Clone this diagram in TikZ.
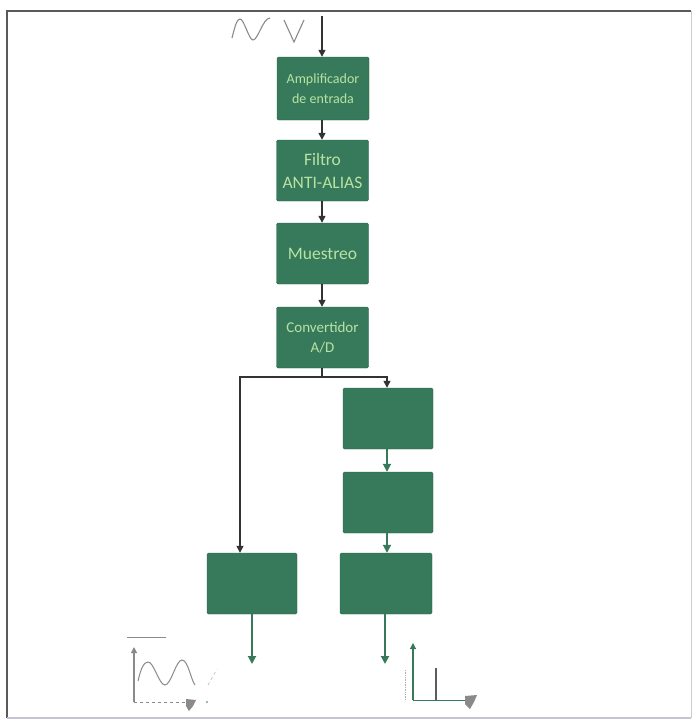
\documentclass[tikz,border=0pt]{standalone}
\usepackage{fontspec}
\setmainfont{Carlito}
\usetikzlibrary{arrows.meta}
\definecolor{boxgreen}{HTML}{367A5B}
\definecolor{txtgreen}{HTML}{B9E2A2}
\definecolor{darkline}{HTML}{333333}
\definecolor{plotgray}{HTML}{8A8A8A}
\begin{document}
\begin{tikzpicture}[x=1pt,y=-1pt,
  blk/.style={draw=boxgreen!80!black,line width=0.4pt,fill=boxgreen,rounded corners=1.5pt,minimum width=#1,align=center,text=txtgreen,inner sep=1pt},
  blk/.default=92pt,
  garrow/.style={darkline,line width=1.4pt,-{Triangle[length=7pt,width=7pt]}},
  greenarrow/.style={boxgreen,line width=1.8pt,-{Triangle[length=8pt,width=8pt]}}]
\useasboundingbox (0,0) rectangle (694,726);
\fill[white] (0,0) rectangle (694,726);
% frame
\draw[gray!70!black,line width=1.2pt] (7,718) -- (7,11) -- (691,11);
\draw[gray!40,line width=0.8pt] (691,11) -- (691,718);
\draw[blue!15!gray!40,line width=1.5pt] (7,718) -- (691,718);

% boxes
\node[blk, minimum height=63pt, font=\fontsize{14}{20}\selectfont] (amp) at (323,88.5) {Amplificador\\de entrada};
\node[blk, minimum height=61pt, font=\fontsize{17.5}{23}\selectfont] (fil) at (322.5,170.5) {Filtro\\ANTI-ALIAS};
\node[blk, minimum height=61pt, font=\fontsize{17.5}{21}\selectfont] (mue) at (322.5,253.5) {Muestreo};
\node[blk, minimum height=61pt, font=\fontsize{15}{20}\selectfont] (con) at (322.5,337.5) {Convertidor\\A/D};
\node[blk=90pt, minimum height=61pt] (r1) at (388,418.5) {};
\node[blk=90pt, minimum height=61pt] (r2) at (388,502.5) {};
\node[blk=92pt, minimum height=61pt] (r3) at (386,583.5) {};
\node[blk=90pt, minimum height=61pt] (l1) at (252,583.5) {};

% input
\coordinate (in) at (322,16);
\draw[garrow] (in) -- (amp.north -| in);
\draw[garrow] (amp.south -| in) -- (fil.north -| in);
\draw[garrow] (fil.south -| in) -- (mue.north -| in);
\draw[garrow] (mue.south -| in) -- (con.north -| in);

% split
\coordinate (sp) at (322,377);
\coordinate (spl) at (240,377);
\coordinate (spr) at (387,377);
\draw[darkline,line width=1.4pt] (con.south -| sp) -- (sp);
\draw[garrow] (sp) -- (spl) -- (spl |- l1.north);
\draw[garrow] (sp) -- (spr) -- (spr |- r1.north);
\draw[greenarrow] (r1.south -| spr) -- (r2.north -| spr);
\draw[greenarrow] (r2.south -| spr) -- (r3.north -| spr);

% outputs
\coordinate (lo) at (252,664);
\coordinate (ro) at (385,664);
\draw[greenarrow] (l1.south -| lo) -- (lo);
\draw[greenarrow] (r3.south -| ro) -- (ro);

% input waveform
\draw[plotgray,line width=1.1pt] (232,38) .. controls (235,26) and (237,19) .. (240,19)
  .. controls (244,19) and (249,40) .. (253,40)
  .. controls (258,40) and (263,18) .. (270,18);
\draw[plotgray,line width=1.1pt] (284,20) -- (294,42) -- (304,20);

% bottom-left plot (time domain)
\draw[plotgray,line width=0.9pt] (127,637) -- (166,637);
\draw[plotgray,line width=1.1pt,-{Triangle[length=6pt,width=6pt]}] (134,702) -- (134,647);
\draw[plotgray,line width=0.9pt,dashed] (134,702) -- (186,702);
\fill[plotgray] (186,699) -- (196,700) -- (193,706) -- (189,711) -- (186,706) -- cycle;
\draw[plotgray,line width=1pt] (138,681) .. controls (141,668) and (144,662) .. (148,662)
  .. controls (154,662) and (159,685) .. (165,685)
  .. controls (171,685) and (176,660) .. (182,660)
  .. controls (188,660) and (191,680) .. (195,685);
\draw[plotgray!60,line width=0.6pt,dashed] (208,685) -- (217,669);
\fill[boxgreen] (207,702) circle (0.8pt);

% bottom-right plot (spectrum)
\draw[plotgray!70,line width=0.7pt,densely dotted] (405,670) -- (405,700);
\draw[boxgreen,line width=1.1pt,-{Triangle[length=6pt,width=6pt]}] (413,700) -- (413,643);
\draw[boxgreen,line width=1pt] (413,700) -- (465,700);
\draw[darkline!80,line width=2pt] (436,700) -- (436,668);
\fill[plotgray] (465,696) -- (477,695) -- (474,702) -- (470,709) -- (465,704) -- cycle;
\end{tikzpicture}
\end{document}
